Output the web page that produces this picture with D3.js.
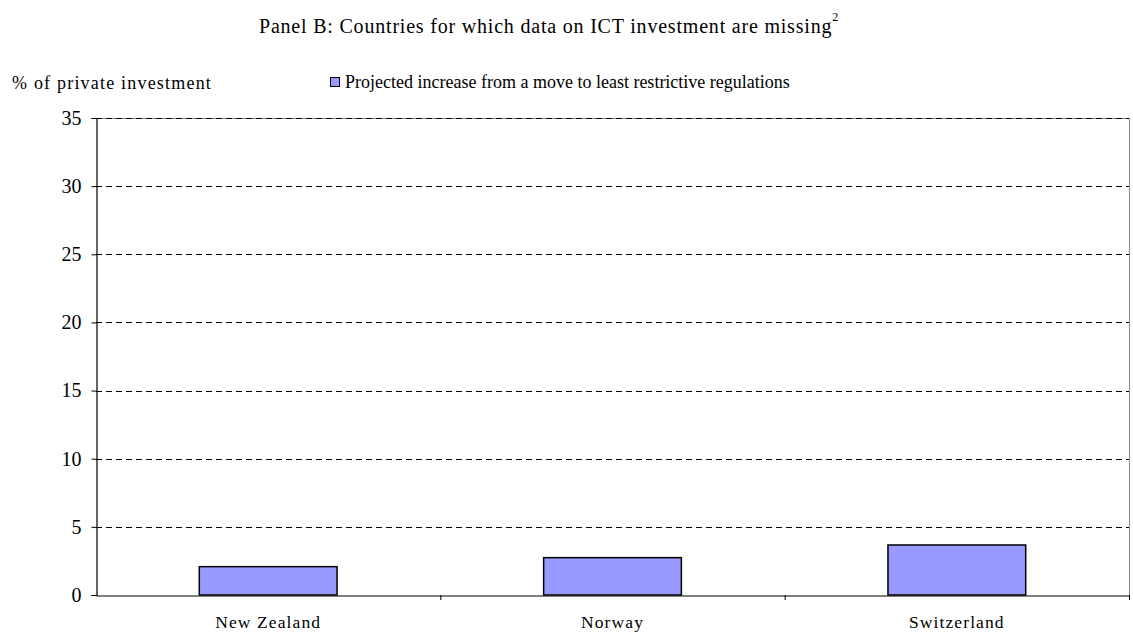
<!DOCTYPE html>
<html><head><meta charset="utf-8">
<script src="https://cdn.jsdelivr.net/npm/d3@7"></script>
<style>
body{margin:0;background:#fff;}
svg text{font-family:'Liberation Serif','DejaVu Serif',serif !important;fill:#000;}
</style></head>
<body><svg id="c" width="1133" height="634"></svg>
<script>
const categories = ["New Zealand", "Norway", "Switzerland"];
const values = [2.08, 2.74, 3.67];
const yTicks = [0, 5, 10, 15, 20, 25, 30, 35];
const seriesName = "Projected increase from a move to least restrictive regulations";
const titleText = "Panel B: Countries for which data on ICT investment are missing";
const yLabel = "% of private investment";

const FONT = "'Liberation Serif','DejaVu Serif',serif";
const svg = d3.select("#c");
const m = {l:96, r:1129, t:118, b:595};
const x = d3.scaleBand().domain(categories).range([m.l, m.r]).paddingInner(0).paddingOuter(0);
const y = d3.scaleLinear().domain([0, 35]).range([m.b, m.t]);

svg.append("line").attr("x1", m.l).attr("x2", m.r).attr("y1", m.t+0.5).attr("y2", m.t+0.5).attr("stroke", "#888");
svg.append("line").attr("x1", m.r+0.5).attr("x2", m.r+0.5).attr("y1", m.t).attr("y2", m.b).attr("stroke", "#888");

svg.append("g").selectAll("line").data(yTicks.filter(d => d > 0)).join("line")
  .attr("x1", m.l).attr("x2", m.r)
  .attr("y1", d => Math.round(y(d))+0.5).attr("y2", d => Math.round(y(d))+0.5)
  .attr("stroke", "#000").attr("stroke-dasharray", "6,4");

const bw = x.bandwidth()*0.4;
svg.append("g").selectAll("rect").data(categories).join("rect")
  .attr("x", (d) => x(d) + x.bandwidth()/2 - bw/2)
  .attr("y", (d,i) => y(values[i]))
  .attr("width", bw)
  .attr("height", (d,i) => y(0) - y(values[i]))
  .attr("fill", "#9999ff").attr("stroke", "#000").attr("stroke-width", 1.5);

const yAxis = svg.append("g").attr("transform", `translate(${m.l+0.5},0)`)
  .call(d3.axisLeft(y).tickValues(yTicks).tickSize(5).tickPadding(10).tickFormat(d3.format("d")));
yAxis.attr("font-family", FONT);
yAxis.select(".domain").attr("stroke", "#000").attr("stroke-width", 1.2);
yAxis.selectAll("text").attr("font-size", 20);

const xAxis = svg.append("g").attr("transform", `translate(0,${m.b+0.5})`)
  .call(d3.axisBottom(x).tickSize(0).tickPadding(20));
xAxis.attr("font-family", FONT);
xAxis.select(".domain").attr("stroke", "#000").attr("stroke-width", 1.2);
xAxis.selectAll("text").attr("font-size", 17.5).attr("letter-spacing", 1.1);
const bounds = categories.slice(1).map(c => x(c)).concat([m.r]);
svg.append("g").selectAll("line").data(bounds).join("line")
  .attr("x1", d => d+0.5).attr("x2", d => d+0.5).attr("y1", m.b).attr("y2", m.b+5).attr("stroke", "#000");

const t = svg.append("text").attr("x", 549).attr("y", 33).attr("text-anchor", "middle").attr("font-family", FONT).attr("font-size", 20).attr("letter-spacing", 0.8);
t.append("tspan").text(titleText);
t.append("tspan").attr("dy", -12).attr("font-size", 12).text("2");

svg.append("text").attr("x", 12).attr("y", 89).attr("font-family", FONT).attr("font-size", 18).attr("letter-spacing", 1.2).text(yLabel);

svg.append("rect").attr("x", 330.5).attr("y", 77.5).attr("width", 9).attr("height", 9)
  .attr("fill", "#9999ff").attr("stroke", "#000");
svg.append("text").attr("x", 345).attr("y", 88).attr("font-family", FONT).attr("font-size", 18).text(seriesName);
</script></body></html>
